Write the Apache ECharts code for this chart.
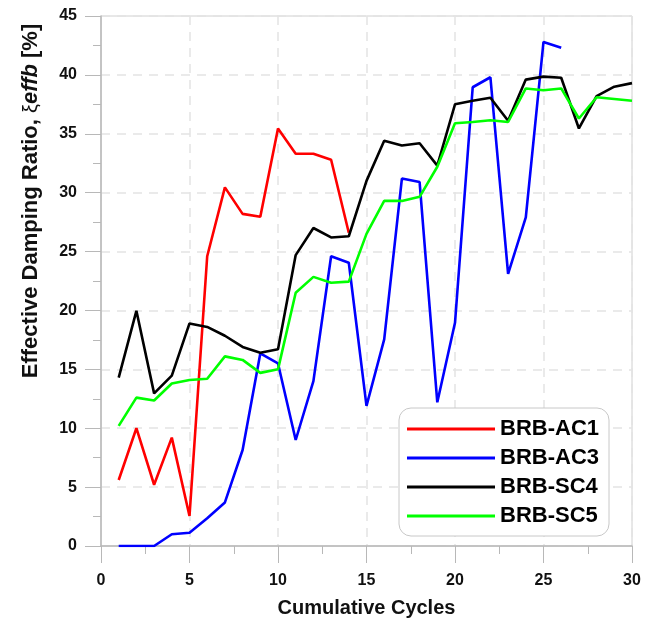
<!DOCTYPE html>
<html>
<head>
<meta charset="utf-8">
<script src="https://cdn.jsdelivr.net/npm/echarts@6/dist/echarts.min.js"></script>
<style>
  html, body { margin: 0; padding: 0; background: #fff; }
  #chart { width: 652px; height: 620px; }
</style>
</head>
<body>
<div id="chart"></div>
<script>
// Effective damping ratio per cumulative cycle for four BRB specimens
const seriesNames = ['BRB-AC1', 'BRB-AC3', 'BRB-SC4', 'BRB-SC5'];
const seriesColors = ['#ff0000', '#0000ff', '#000000', '#00ff00'];

const ac1Values = [5.6, 10.0, 5.2, 9.2, 2.55, 24.6, 30.45, 28.2, 27.95, 35.45, 33.3, 33.3, 32.8, 26.6];
const ac3Values = [0, 0, 0, 1.0, 1.13, 2.35, 3.7, 8.15, 16.35, 15.5, 9.0, 14.0, 24.6, 24.05,
                   11.9, 17.55, 31.2, 30.9, 12.2, 18.95, 38.95, 39.8, 23.1, 27.9, 42.8, 42.3];
const sc4Values = [14.3, 19.97, 12.96, 14.46, 18.9, 18.6, 17.85, 16.9, 16.4, 16.7, 24.7, 27.0, 26.2, 26.3,
                   31.0, 34.4, 34.0, 34.2, 32.3, 37.5, 37.8, 38.06, 36.1, 39.6, 39.85, 39.76, 35.45, 38.2, 39.0, 39.3];
const sc5Values = [10.2, 12.6, 12.35, 13.8, 14.1, 14.2, 16.1, 15.8, 14.7, 15.0, 21.5, 22.85, 22.35, 22.45,
                   26.5, 29.3, 29.3, 29.65, 32.2, 35.9, 36.0, 36.15, 36.0, 38.85, 38.7, 38.85, 36.3, 38.1, 37.95, 37.8];

const xTickValues = [0, 5, 10, 15, 20, 25, 30];
const yTickValues = [0, 5, 10, 15, 20, 25, 30, 35, 40, 45];

const allValues = [ac1Values, ac3Values, sc4Values, sc5Values];

// pair each value with its cycle number (cycles start at 1)
function toPairs(vals) {
  return vals.map((v, i) => [i + 1, v]);
}

const font = 'Liberation Sans, Arial, sans-serif';
const chart = echarts.init(document.getElementById('chart'));

const option = {
  backgroundColor: '#ffffff',
  animation: false,
  grid: {
    left: 101, right: 20, top: 16, bottom: 74,
    outerBoundsMode: 'none',
    containLabel: false,
    show: true, borderColor: '#d0d0d0', borderWidth: 1
  },
  xAxis: {
    type: 'value',
    min: xTickValues[0], max: xTickValues[xTickValues.length - 1], interval: 5,
    name: 'Cumulative Cycles',
    nameLocation: 'middle', nameGap: 52,
    nameTextStyle: { fontFamily: font, fontWeight: 'bold', fontSize: 20, color: '#111' },
    axisLine: { lineStyle: { color: '#b8b8b8', width: 1.5 } },
    axisTick: { length: 17, lineStyle: { color: '#b8b8b8', width: 1 } },
    minorTick: { show: true, splitNumber: 2, length: 8, lineStyle: { color: '#b8b8b8', width: 1 } },
    axisLabel: { margin: 27, fontFamily: font, fontWeight: 'bold', fontSize: 16, color: '#111' },
    splitLine: { show: true, lineStyle: { color: '#e4e4e4', width: 1.5, type: [9, 7] } }
  },
  yAxis: {
    type: 'value',
    min: yTickValues[0], max: yTickValues[yTickValues.length - 1], interval: 5,
    axisLine: { show: true, lineStyle: { color: '#b8b8b8', width: 1.5 } },
    axisTick: { show: true, length: 16, lineStyle: { color: '#b8b8b8', width: 1 } },
    minorTick: { show: true, splitNumber: 2, length: 8, lineStyle: { color: '#b8b8b8', width: 1 } },
    axisLabel: { margin: 24, fontFamily: font, fontWeight: 'bold', fontSize: 16, color: '#111' },
    splitLine: { show: true, lineStyle: { color: '#e4e4e4', width: 1.5, type: [9, 7] } }
  },
  legend: {
    orient: 'vertical',
    left: 399, top: 408,
    padding: [10, 10, 9, 8],
    backgroundColor: '#ffffff',
    borderColor: '#c8c8c8', borderWidth: 1, borderRadius: 12,
    icon: 'rect',
    itemWidth: 88, itemHeight: 3, itemGap: 7,
    textStyle: { fontFamily: font, fontWeight: 'bold', fontSize: 22, color: '#000' },
    data: seriesNames
  },
  graphic: [{
    type: 'text',
    x: 31, y: 201,
    rotation: Math.PI / 2,
    style: {
      text: '{a|Effective Damping Ratio, }{b|ξ}{c|effb}{a| [%]}',
      align: 'center', verticalAlign: 'middle',
      rich: {
        a: { fontFamily: font, fontWeight: 'bold', fontSize: 22, fill: '#111' },
        b: { fontFamily: font, fontWeight: 'normal', fontSize: 20, fill: '#111' },
        c: { fontFamily: font, fontWeight: 'bold', fontStyle: 'italic', fontSize: 22, fill: '#111' }
      }
    }
  }],
  series: seriesNames.map((name, k) => ({
    name: name,
    type: 'line',
    data: toPairs(allValues[k]),
    showSymbol: false,
    symbol: 'none',
    color: seriesColors[k],
    lineStyle: { color: seriesColors[k], width: 2.6 },
    z: 2 + k
  }))
};

chart.setOption(option);
</script>
</body>
</html>
